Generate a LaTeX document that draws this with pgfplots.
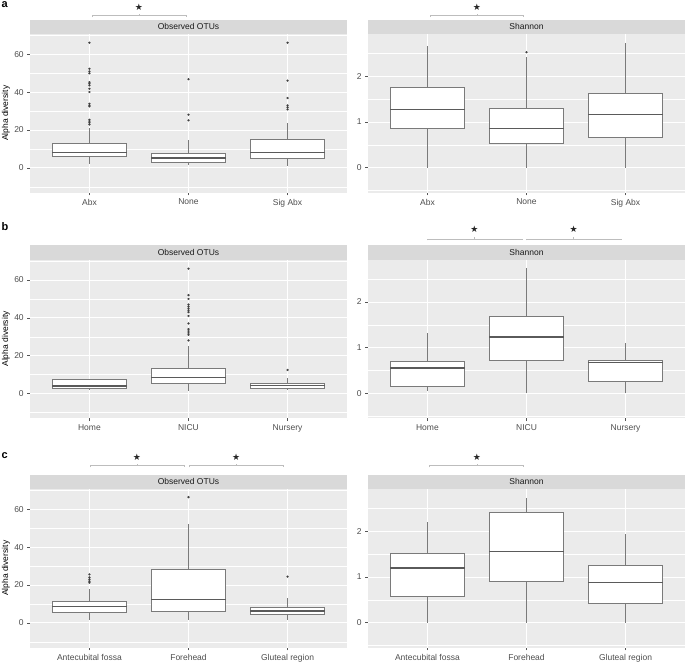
\documentclass[border=0pt]{standalone}
\usepackage{pgfplots}
\pgfplotsset{compat=1.18}
\usepgfplotslibrary{statistics}
\usepackage{fontspec}
\setmainfont{Liberation Sans}
\newfontfamily\symfont{DejaVu Sans}
\definecolor{panelbg}{HTML}{EBEBEB}
\definecolor{stripbg}{HTML}{D9D9D9}
\definecolor{boxline}{HTML}{7A7A7A}
\definecolor{medline}{HTML}{5A5A5A}
\definecolor{ptcol}{HTML}{404040}
\definecolor{ticklab}{HTML}{4D4D4D}
\definecolor{tickcol}{HTML}{555555}
\definecolor{sigcol}{HTML}{BDBDBD}
\definecolor{striptext}{HTML}{1A1A1A}
\newcommand{\fs}{\fontsize{8.5}{10}\selectfont}

\pgfplotsset{
  panel/.style={
    scale only axis, width=317pt, height=158.7pt,
    xmin=0.4, xmax=3.6, xtick={1,2,3},
    axis background/.style={fill=panelbg},
    axis line style={draw=none},
    xmajorgrids, ymajorgrids, yminorgrids,
    major grid style={white, line width=0.6pt},
    minor grid style={white, line width=0.3pt},
    major tick length=2.75pt, minor tick length=0pt,
    tick align=outside, xtick pos=left, ytick pos=left,
    tick style={tickcol, line width=0.4pt},
    tick label style={font=\fs, text=ticklab},
    /pgf/number format/assume math mode=true,
    clip=false,
    boxplot/draw direction=y,
    boxplot/whisker extend=0,
    boxplot/box extend=0.75,
    boxplot/every box/.style={draw=boxline, fill=white, line width=0.95pt},
    boxplot/every whisker/.style={draw=boxline, line width=0.85pt},
    boxplot/every median/.style={draw=medline, line width=1.4pt},
  },
  otu/.style={panel, ymin=-13.2, ymax=70.8, ytick={0,20,40,60}, minor ytick={-10,10,30,50,70},
    ylabel={Alpha diversity},
    every axis y label/.style={at={(rel axis cs:0,0.5)}, xshift=-24pt, rotate=90, anchor=center, font=\fs, text=black}},
  sha/.style={panel, ymin=-0.55, ymax=2.93, ytick={0,1,2}, minor ytick={-0.5,0.5,1.5,2.5}},
  bx/.style={draw=boxline, fill=white, mark=*, mark size=1.0pt, mark options={fill=ptcol, draw=ptcol, line width=0.2pt}},
}

\newcommand{\strip}[1]{%
  \fill[stripbg] (rel axis cs:0,1) rectangle ([yshift=14.4pt]rel axis cs:1,1);
  \node[font=\fs, text=striptext] at ([yshift=7.2pt]rel axis cs:0.5,1) {#1};
}
% x1, x2, xc, bar shift, star shift
\newcommand{\sig}[5]{%
  \draw[sigcol, line width=0.5pt]
    ([yshift=#4pt-1.6pt]axis cs:#1,\pgfkeysvalueof{/pgfplots/ymax}) --
    ([yshift=#4pt]axis cs:#1,\pgfkeysvalueof{/pgfplots/ymax}) --
    ([yshift=#4pt]axis cs:#2,\pgfkeysvalueof{/pgfplots/ymax}) --
    ([yshift=#4pt-1.6pt]axis cs:#2,\pgfkeysvalueof{/pgfplots/ymax});
  \draw[sigcol, line width=0.5pt] ([yshift=#4pt]axis cs:#3,\pgfkeysvalueof{/pgfplots/ymax}) -- ([yshift=#4pt+1.5pt]axis cs:#3,\pgfkeysvalueof{/pgfplots/ymax});
  \node[font=\symfont\fontsize{9}{9}\selectfont, text=black!85, inner sep=0pt] at ([yshift=#5pt]axis cs:#3,\pgfkeysvalueof{/pgfplots/ymax}) {★};
}

\begin{document}
\begin{tikzpicture}
\useasboundingbox (0,0) rectangle (685pt,662pt);
\node[anchor=base west, inner sep=0pt, font=\fontsize{11}{11}\selectfont\bfseries] at (1.5pt,654pt) {a};
\node[anchor=base west, inner sep=0pt, font=\fontsize{11}{11}\selectfont\bfseries] at (1.5pt,431pt) {b};
\node[anchor=base west, inner sep=0pt, font=\fontsize{11}{11}\selectfont\bfseries] at (1.5pt,204pt) {c};

% ---------------- Row a ----------------
\begin{axis}[otu, at={(30pt,469.3pt)}, anchor=south west, xticklabels={Abx,None,Sig Abx}]
\addplot[bx, boxplot prepared={draw position=1, lower whisker=2, lower quartile=6, median=8, upper quartile=12.7, upper whisker=21}]
  table[row sep=\\, y index=0] {y\\ 22.9\\ 23.8\\ 24.7\\ 25.4\\ 32.5\\ 33\\ 33.9\\ 40.1\\ 41.8\\ 43.6\\ 44.5\\ 45.3\\ 50\\ 51\\ 52.4\\ 66.2\\};
\addplot[bx, boxplot prepared={draw position=2, lower whisker=1.2, lower quartile=2.7, median=5.2, upper quartile=7.8, upper whisker=14.8}]
  table[row sep=\\, y index=0] {y\\ 25.1\\ 28.1\\ 46.9\\};
\addplot[bx, boxplot prepared={draw position=3, lower whisker=1, lower quartile=4.8, median=8, upper quartile=14.8, upper whisker=23.7}]
  table[row sep=\\, y index=0] {y\\ 30.9\\ 32\\ 33\\ 36.9\\ 46.1\\ 66.2\\};
\strip{Observed OTUs}
\sig{1.03}{1.98}{1.5}{18.4}{27}
\end{axis}

\begin{axis}[sha, at={(368pt,469.3pt)}, anchor=south west, xticklabels={Abx,None,Sig Abx}]
\addplot[bx, boxplot prepared={draw position=1, lower whisker=0, lower quartile=0.86, median=1.28, upper quartile=1.75, upper whisker=2.66}]
  table[row sep=\\, y index=0] {y\\};
\addplot[bx, boxplot prepared={draw position=2, lower whisker=0, lower quartile=0.54, median=0.86, upper quartile=1.30, upper whisker=2.42}]
  table[row sep=\\, y index=0] {y\\ 2.53\\};
\addplot[bx, boxplot prepared={draw position=3, lower whisker=0, lower quartile=0.65, median=1.17, upper quartile=1.62, upper whisker=2.73}]
  table[row sep=\\, y index=0] {y\\};
\strip{Shannon}
\sig{1.03}{1.97}{1.5}{18.4}{27}
\end{axis}

% ---------------- Row b ----------------
\begin{axis}[otu, at={(30pt,243.7pt)}, anchor=south west, xticklabels={Home,NICU,Nursery}]
\addplot[bx, boxplot prepared={draw position=1, lower whisker=2, lower quartile=2.8, median=4, upper quartile=7.1, upper whisker=7.1}]
  table[row sep=\\, y index=0] {y\\};
\addplot[bx, boxplot prepared={draw position=2, lower whisker=1.2, lower quartile=5.1, median=8.3, upper quartile=13.2, upper whisker=25}]
  table[row sep=\\, y index=0] {y\\ 28\\ 31\\ 32\\ 33\\ 34\\ 37\\ 41\\ 43\\ 44\\ 45\\ 46\\ 47\\ 50\\ 52\\ 66\\};
\addplot[bx, boxplot prepared={draw position=3, lower whisker=1.6, lower quartile=2.8, median=4.2, upper quartile=5.3, upper whisker=7.9}]
  table[row sep=\\, y index=0] {y\\ 12.4\\};
\strip{Observed OTUs}
\end{axis}

\begin{axis}[sha, at={(368pt,243.7pt)}, anchor=south west, xticklabels={Home,NICU,Nursery}]
\addplot[bx, boxplot prepared={draw position=1, lower whisker=0.04, lower quartile=0.15, median=0.55, upper quartile=0.69, upper whisker=1.31}]
  table[row sep=\\, y index=0] {y\\};
\addplot[bx, boxplot prepared={draw position=2, lower whisker=0, lower quartile=0.72, median=1.23, upper quartile=1.68, upper whisker=2.74}]
  table[row sep=\\, y index=0] {y\\};
\addplot[bx, boxplot prepared={draw position=3, lower whisker=0, lower quartile=0.25, median=0.67, upper quartile=0.72, upper whisker=1.10}]
  table[row sep=\\, y index=0] {y\\};
\strip{Shannon}
\sig{1.0}{1.955}{1.475}{20.7}{30}
\sig{2.0}{2.955}{2.476}{20.7}{30}
\end{axis}

% ---------------- Row c ----------------
\begin{axis}[otu, at={(30pt,14.3pt)}, anchor=south west, xticklabels={Antecubital fossa,Forehead,Gluteal region}]
\addplot[bx, boxplot prepared={draw position=1, lower whisker=1.4, lower quartile=5.3, median=8.5, upper quartile=11.1, upper whisker=18}]
  table[row sep=\\, y index=0] {y\\ 21.2\\ 22\\ 23\\ 24\\ 25.6\\};
\addplot[bx, boxplot prepared={draw position=2, lower whisker=1.4, lower quartile=6.2, median=12.2, upper quartile=28.2, upper whisker=52.4}]
  table[row sep=\\, y index=0] {y\\ 66.5\\};
\addplot[bx, boxplot prepared={draw position=3, lower whisker=1.4, lower quartile=4.2, median=6.2, upper quartile=8.3, upper whisker=13.2}]
  table[row sep=\\, y index=0] {y\\ 24.4\\};
\strip{Observed OTUs}
\sig{1.006}{1.958}{1.48}{23.3}{32}
\sig{2.005}{2.957}{2.48}{23.3}{32}
\end{axis}

\begin{axis}[sha, at={(368pt,14.3pt)}, anchor=south west, xticklabels={Antecubital fossa,Forehead,Gluteal region}]
\addplot[bx, boxplot prepared={draw position=1, lower whisker=0, lower quartile=0.57, median=1.20, upper quartile=1.51, upper whisker=2.21}]
  table[row sep=\\, y index=0] {y\\};
\addplot[bx, boxplot prepared={draw position=2, lower whisker=0, lower quartile=0.91, median=1.56, upper quartile=2.42, upper whisker=2.74}]
  table[row sep=\\, y index=0] {y\\};
\addplot[bx, boxplot prepared={draw position=3, lower whisker=0, lower quartile=0.42, median=0.88, upper quartile=1.26, upper whisker=1.95}]
  table[row sep=\\, y index=0] {y\\};
\strip{Shannon}
\sig{1.02}{1.97}{1.5}{23.3}{32}
\end{axis}
\end{tikzpicture}
\end{document}
